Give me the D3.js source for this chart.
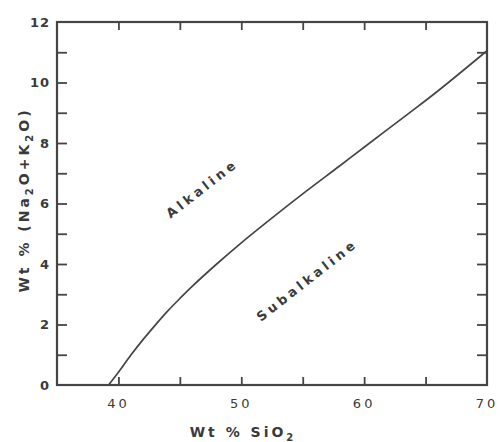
<!DOCTYPE html>
<html><head><meta charset="utf-8">
<script src="https://cdn.jsdelivr.net/npm/d3@7/dist/d3.min.js"></script>
<style>body{margin:0;background:#fff;} text{font-family:"DejaVu Sans",sans-serif;fill:#3a3a3a;}</style>
</head><body><svg id="c" width="500" height="442"></svg>
<script>
const silica = [39.2, 40, 41, 42, 43, 44, 45, 46, 48, 50, 52, 55, 58, 60, 63.5, 66, 70];
const alkali = [0, 0.42, 0.98, 1.5, 1.98, 2.44, 2.86, 3.26, 4.0, 4.7, 5.36, 6.32, 7.24, 7.86, 8.94, 9.72, 11.05];
const xTickLabels = [40, 50, 60, 70];
const yTickLabels = [0, 2, 4, 6, 8, 10, 12];
const xMinorTicks = [40, 45, 50, 55, 60, 65];
const yMinorTicks = d3.range(1, 12);
const regionLabels = [{text:"Alkaline", x:46.8, y:6.5}, {text:"Subalkaline", x:55.35, y:3.47}];

const svg = d3.select("#c");
const m = {l:57, r:487, t:22, b:385};
const x = d3.scaleLinear().domain([35,70]).range([m.l,m.r]);
const y = d3.scaleLinear().domain([0,12]).range([m.b,m.t]);
const stroke = "#454545";

svg.append("rect").attr("x",m.l).attr("y",m.t).attr("width",m.r-m.l).attr("height",m.b-m.t)
  .attr("fill","none").attr("stroke",stroke).attr("stroke-width",2.2);

const g = svg.append("g");
g.append("g").attr("transform",`translate(${m.l},0)`)
  .call(d3.axisRight(y).tickValues(yMinorTicks).tickSize(10).tickFormat(""));
g.append("g").attr("transform",`translate(${m.r},0)`)
  .call(d3.axisLeft(y).tickValues(yMinorTicks).tickSize(10).tickFormat(""));
g.append("g").attr("transform",`translate(0,${m.t})`)
  .call(d3.axisBottom(x).tickValues(xMinorTicks).tickSize(8).tickFormat(""));
g.append("g").attr("transform",`translate(0,${m.b})`)
  .call(d3.axisTop(x).tickValues(xMinorTicks).tickSize(8).tickFormat(""));
g.selectAll(".domain").remove();
g.selectAll(".tick line").attr("stroke",stroke).attr("stroke-width",1.8);

svg.append("g").selectAll("text").data(yTickLabels).join("text")
  .attr("x",m.l-7).attr("y",d=>y(d)).attr("dy","0.36em").attr("text-anchor","end")
  .attr("font-size",13).attr("font-weight","bold").attr("letter-spacing",1).text(d=>d);
svg.append("g").selectAll("text").data(xTickLabels).join("text")
  .attr("x",d=>x(d)).attr("y",403).attr("dy","0.36em").attr("text-anchor","middle")
  .attr("font-size",13).attr("letter-spacing",3).text(d=>d);

const xt = svg.append("text").attr("x",243).attr("y",437).attr("text-anchor","middle")
  .attr("font-size",14).attr("font-weight","bold").attr("letter-spacing",3);
xt.append("tspan").text("Wt % SiO");
xt.append("tspan").attr("font-size",10).attr("dy",4).text("2");

const yt = svg.append("text").attr("transform","translate(29,200) rotate(-90)").attr("text-anchor","middle")
  .attr("font-size",14).attr("font-weight","bold").attr("letter-spacing",3);
yt.append("tspan").text("Wt %  (Na");
yt.append("tspan").attr("font-size",10).attr("dy",4).text("2");
yt.append("tspan").attr("dy",-4).text("O+K");
yt.append("tspan").attr("font-size",10).attr("dy",4).text("2");
yt.append("tspan").attr("dy",-4).text("O)");

const pts = silica.map((s,i)=>[s, alkali[i]]);
svg.append("path").datum(pts)
  .attr("d", d3.line().x(d=>x(d[0])).y(d=>y(d[1])).curve(d3.curveCatmullRom))
  .attr("fill","none").attr("stroke",stroke).attr("stroke-width",1.7);

svg.append("g").selectAll("text").data(regionLabels).join("text")
  .attr("transform",d=>`translate(${x(d.x)},${y(d.y)}) rotate(-38)`)
  .attr("text-anchor","middle").attr("dy","0.36em")
  .attr("font-size",13).attr("font-weight","bold").attr("letter-spacing",3.5)
  .text(d=>d.text);
</script></body></html>
